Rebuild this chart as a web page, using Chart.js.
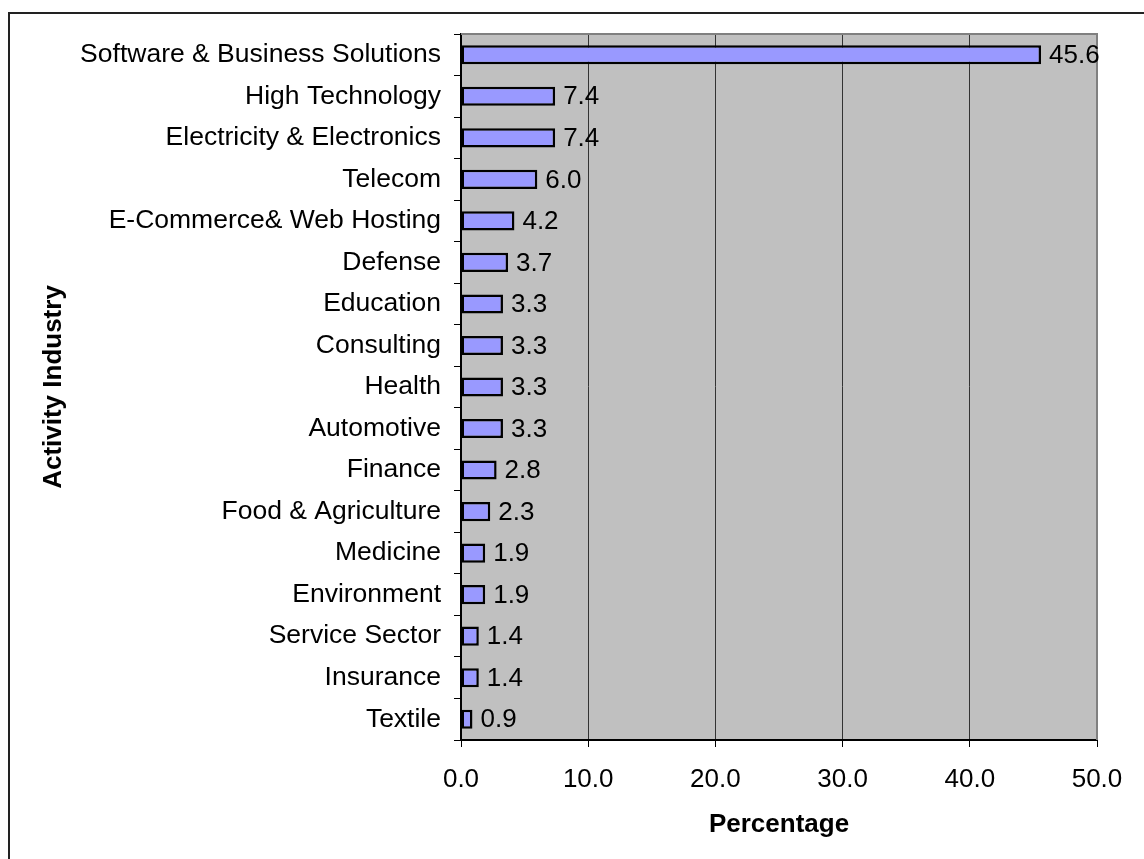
<!DOCTYPE html>
<html>
<head>
<meta charset="utf-8">
<script src="https://cdn.jsdelivr.net/npm/chart.js@4.4.0/dist/chart.umd.min.js"></script>
<style>
  html, body { margin: 0; padding: 0; background: #fff; overflow: hidden; }
  #wrap { position: relative; width: 1144px; height: 859px; }
  #frame {
    position: absolute; left: 8px; top: 12px; width: 1200px; height: 900px;
    border-left: 2px solid #222; border-top: 2px solid #222;
  }
  canvas { position: absolute; left: 0; top: 0; }
</style>
</head>
<body>
<div id="wrap">
  <div id="frame"></div>
  <canvas id="myChart" width="1144" height="859"></canvas>
</div>
<script>
// activity industries, top to bottom
const industries = [
  "Software & Business Solutions",
  "High Technology",
  "Electricity & Electronics",
  "Telecom",
  "E-Commerce& Web Hosting",
  "Defense",
  "Education",
  "Consulting",
  "Health",
  "Automotive",
  "Finance",
  "Food & Agriculture",
  "Medicine",
  "Environment",
  "Service Sector",
  "Insurance",
  "Textile",
];
const percentages = [45.6, 7.4, 7.4, 6.0, 4.2, 3.7, 3.3, 3.3, 3.3, 3.3, 2.8, 2.3, 1.9, 1.9, 1.4, 1.4, 0.9];
const xTicks = [0, 10, 20, 30, 40, 50];

const FONT = "'Liberation Sans', Arial, sans-serif";

// grey plot background
const plotBackground = {
  id: "plotBackground",
  beforeDraw(chart) {
    const { ctx, chartArea: a } = chart;
    ctx.save();
    ctx.fillStyle = "#c0c0c0";
    ctx.fillRect(a.left, a.top, a.right - a.left, a.bottom - a.top);
    ctx.restore();
  },
};

// grey frame on top and right of the plot
const plotBorder = {
  id: "plotBorder",
  beforeDatasetsDraw(chart) {
    const { ctx, chartArea: a } = chart;
    ctx.save();
    ctx.strokeStyle = "#808080";
    ctx.lineWidth = 2;
    ctx.beginPath();
    ctx.moveTo(a.left, a.top);
    ctx.lineTo(a.right, a.top);
    ctx.lineTo(a.right, a.bottom);
    ctx.stroke();
    ctx.restore();
  },
};

// value text after each bar
const valueLabels = {
  id: "valueLabels",
  afterDatasetsDraw(chart) {
    const { ctx } = chart;
    const meta = chart.getDatasetMeta(0);
    ctx.save();
    ctx.font = "26px " + FONT;
    ctx.fillStyle = "#000";
    ctx.textAlign = "left";
    ctx.textBaseline = "middle";
    meta.data.forEach((bar, i) => {
      const v = chart.data.datasets[0].data[i];
      ctx.fillText(v.toFixed(1), bar.x + 8, bar.y + 1);
    });
    ctx.restore();
  },
};

const ctx = document.getElementById("myChart").getContext("2d");
const myChart = new Chart(ctx, {
  type: "bar",
  data: {
    labels: industries,
    datasets: [
      {
        data: percentages,
        backgroundColor: "#9999ff",
        borderColor: "#000",
        borderWidth: 2.5,
        borderSkipped: false,
        barPercentage: 0.46,
        categoryPercentage: 1,
      },
    ],
  },
  options: {
    indexAxis: "y",
    responsive: false,
    animation: false,
    layout: { padding: { top: 34, right: 47, left: 0, bottom: 0 } },
    plugins: {
      legend: { display: false },
      tooltip: { enabled: false },
    },
    scales: {
      x: {
        type: "linear",
        min: 0,
        max: 50,
        afterBuildTicks: (scale) => {
          scale.ticks = xTicks.map((v) => ({ value: v }));
        },
        afterFit: (scale) => {
          scale.height = 119;
        },
        ticks: {
          color: "#000",
          font: { family: FONT, size: 26 },
          padding: 17,
          maxRotation: 0,
          callback: (v) => Number(v).toFixed(1),
        },
        grid: {
          color: (c) => (c.tick && c.tick.value === 50 ? "rgba(0,0,0,0)" : "#333"),
          lineWidth: 1,
          tickColor: "#000",
          tickLength: 7,
        },
        border: { display: true, color: "#000", width: 2 },
        title: {
          display: true,
          text: "Percentage",
          color: "#000",
          font: { family: FONT, size: 26, weight: "bold" },
          padding: { top: 0, bottom: 19 },
        },
      },
      y: {
        type: "category",
        afterFit: (scale) => {
          scale.width = 461;
        },
        ticks: {
          color: "#000",
          font: { family: FONT, size: 26.5 },
          padding: 13,
          autoSkip: false,
        },
        grid: {
          offset: true,
          drawOnChartArea: false,
          tickColor: "#000",
          tickLength: 7,
        },
        border: { display: true, color: "#000", width: 2 },
        title: {
          display: true,
          text: "Activity Industry",
          color: "#000",
          font: { family: FONT, size: 26, weight: "bold" },
          padding: { top: 38, bottom: 0 },
        },
      },
    },
  },
  plugins: [plotBackground, plotBorder, valueLabels],
});
</script>
</body>
</html>
